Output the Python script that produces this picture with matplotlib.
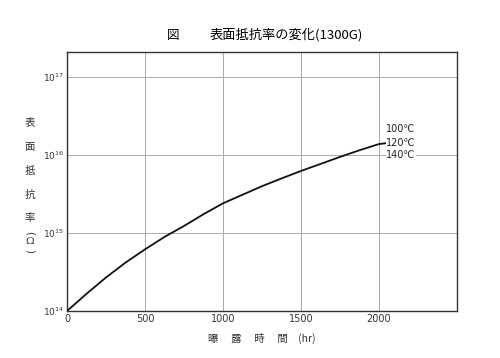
import numpy as np
import matplotlib
matplotlib.use('Agg')
import matplotlib.pyplot as plt

plt.rcParams['font.family'] = ['Noto Sans CJK JP', 'DejaVu Sans']

#%% Data
hours = [0, 125, 250, 375, 500, 625, 750, 875, 1000, 1125, 1250, 1375,
         1500, 1625, 1750, 1875, 2000, 2040]
resist = [1.0e14, 1.66e14, 2.69e14, 4.17e14, 6.17e14, 8.9e14, 1.23e15,
          1.74e15, 2.4e15, 3.09e15, 3.98e15, 5.0e15, 6.24e15, 7.67e15,
          9.44e15, 1.15e16, 1.38e16, 1.41e16]

temps = ['100℃', '120℃', '140℃']
temp_y = [2.14e16, 1.41e16, 1.0e16]

xticks = [0, 500, 1000, 1500, 2000]
yticks = [1e14, 1e15, 1e16, 1e17]
ytick_labels = ['$10^{14}$', '$10^{15}$', '$10^{16}$', '$10^{17}$']

#%% Plot
fig = plt.figure(figsize=(5, 3.58), dpi=100)
ax = fig.add_axes([0.134, 0.1313, 0.78, 0.7235])

ax.plot(hours, resist, color='#111111', lw=1.3, zorder=3)
ax.set_yscale('log')
ax.set_xlim(0, 2500)
ax.set_ylim(1e14, 10**17.32)
ax.set_xticks(xticks)
ax.set_xticklabels([str(t) for t in xticks], fontsize=7, family='DejaVu Sans', color='#333333')
ax.set_yticks(yticks)
ax.set_yticklabels(ytick_labels, fontsize=6.5, color='#333333')
ax.yaxis.set_minor_locator(matplotlib.ticker.NullLocator())
ax.tick_params(length=0, pad=2)
ax.grid(True, color='#aaaaaa', lw=0.7)
for s in ax.spines.values():
    s.set_color('#333333')
    s.set_linewidth(1.0)

for t, y in zip(temps, temp_y):
    ax.text(2045, y, t, fontsize=7, va='center', ha='left', color='#222222',
            family=['DejaVu Sans'],
            bbox=dict(facecolor='white', edgecolor='none', pad=0.3), zorder=4)

fig.text(0.346, 0.902, '図', fontsize=9, ha='center', va='center')
fig.text(0.42, 0.902, '表面抵抗率の変化(1300G)', fontsize=9.5, ha='left', va='center')

# vertical y label
ylab = ['表', '面', '抵', '抗', '率']
ylab_y = [122, 147, 171, 195, 218]
for ch, py in zip(ylab, ylab_y):
    fig.text(30 / 500, 1 - py / 358, ch, fontsize=7.5, ha='center', va='center', color='#333333')
fig.text(30 / 500, 1 - 233 / 358, '(', fontsize=7.5, ha='center', va='center', rotation=-90,
         family=['DejaVu Sans'], color='#333333')
fig.text(30 / 500, 1 - 242 / 358, 'Ω', fontsize=7.5, ha='center', va='center',
         family=['DejaVu Serif'], color='#333333')
fig.text(30 / 500, 1 - 251 / 358, ')', fontsize=7.5, ha='center', va='center', rotation=-90,
         family=['DejaVu Sans'], color='#333333')

fig.text(0.524, 1 - 338 / 358, '曝　 露　 時　 間　(hr)', fontsize=7.5, ha='center', va='center', color='#333333')

plt.savefig('out.png', dpi=100)
